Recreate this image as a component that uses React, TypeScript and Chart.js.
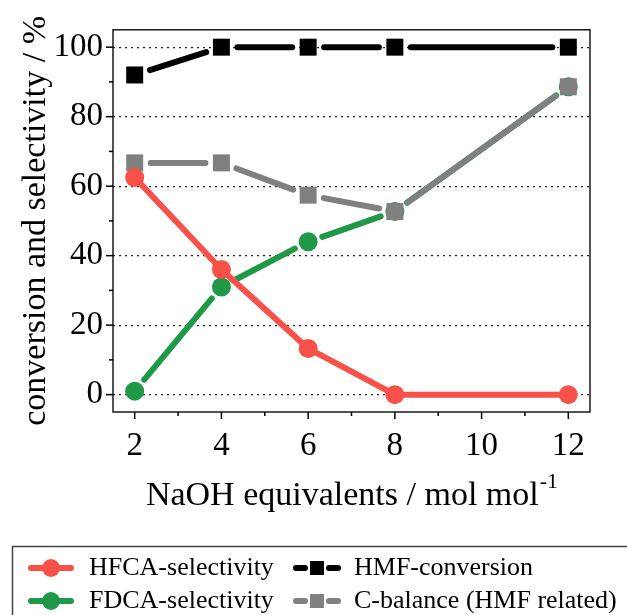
import React, { useEffect, useRef } from 'react';
import { Chart, registerables } from 'chart.js';

Chart.register(...registerables);

// ---- data ----
const naohEquivalents = [2, 4, 6, 8, 12];
const hfcaSelectivity = [62.5, 36, 13.3, 0, 0];
const fdcaSelectivity = [1, 31, 44, 52.7, 88.6];
const hmfConversion = [92, 100, 100, 100, 100];
const cBalance = [66.7, 66.7, 57.4, 52.7, 88.6];

const xTickValues = [2, 3, 4, 5, 6, 7, 8, 9, 10, 11, 12];
const xTickLabels = [2, 4, 6, 8, 10, 12];
const yTickValues = [0, 10, 20, 30, 40, 50, 60, 70, 80, 90, 100];
const yTickLabels = [0, 20, 40, 60, 80, 100];

const xTitle = 'NaOH equivalents / mol mol';
const xTitleSup = '-1';
const yTitle = 'conversion and selectivity / %';

const FONT = '"Liberation Serif", "Times New Roman", Times, serif';
const RED = '#F8514A';
const GREEN = '#1F9848';
const BLACK = '#000000';
const GRAY = '#808080';

const toPoints = (ys: number[]) => naohEquivalents.map((x, i) => ({ x, y: ys[i] }));

const decorPlugin = {
  id: 'decor',
  beforeDatasetDraw(chart: any, args: any) {
    const ds = chart.data.datasets[args.index];
    const pts = args.meta.data;
    const gap = ds.lineGap || 0;
    const ctx = chart.ctx;
    ctx.save();
    ctx.strokeStyle = ds.borderColor;
    ctx.lineWidth = 6;
    ctx.lineCap = 'round';
    for (let i = 0; i < pts.length - 1; i++) {
      const a = pts[i];
      const b = pts[i + 1];
      const dx = b.x - a.x;
      const dy = b.y - a.y;
      const len = Math.hypot(dx, dy);
      if (len <= 2 * gap + 1) continue;
      const ux = dx / len;
      const uy = dy / len;
      ctx.beginPath();
      ctx.moveTo(a.x + ux * gap, a.y + uy * gap);
      ctx.lineTo(b.x - ux * gap, b.y - uy * gap);
      ctx.stroke();
    }
    ctx.restore();
  },
  afterDraw(chart: any) {
    const ctx = chart.ctx;
    const area = chart.chartArea;
    const xs = chart.scales.x;
    const ys = chart.scales.y;
    ctx.save();
    // frame
    ctx.strokeStyle = '#1a1a1a';
    ctx.lineWidth = 1.5;
    ctx.strokeRect(area.left, area.top, area.right - area.left, area.bottom - area.top);
    // tick marks
    ctx.lineWidth = 1.5;
    ctx.strokeStyle = '#000';
    for (const v of xTickValues) {
      const px = xs.getPixelForValue(v);
      const len = xTickLabels.includes(v) ? 7 : 4;
      ctx.beginPath();
      ctx.moveTo(px, area.bottom);
      ctx.lineTo(px, area.bottom + len);
      ctx.stroke();
    }
    for (const v of yTickValues) {
      const py = ys.getPixelForValue(v);
      const len = yTickLabels.includes(v) ? 7 : 4;
      ctx.beginPath();
      ctx.moveTo(area.left, py);
      ctx.lineTo(area.left - len, py);
      ctx.stroke();
    }
    // x title with superscript
    ctx.fillStyle = '#000';
    ctx.textBaseline = 'alphabetic';
    ctx.textAlign = 'left';
    ctx.font = `34px ${FONT}`;
    const mainW = ctx.measureText(xTitle).width;
    ctx.font = `22px ${FONT}`;
    const supW = ctx.measureText(xTitleSup).width;
    const cx = (area.left + area.right) / 2;
    const startX = cx - (mainW + supW) / 2;
    ctx.font = `34px ${FONT}`;
    ctx.fillText(xTitle, startX, 505);
    ctx.font = `22px ${FONT}`;
    ctx.fillText(xTitleSup, startX + mainW + 1, 488);
    // y title
    ctx.save();
    ctx.translate(45, (area.top + area.bottom) / 2);
    ctx.rotate(-Math.PI / 2);
    ctx.textAlign = 'center';
    ctx.font = `34px ${FONT}`;
    ctx.fillText(yTitle, 0, 0);
    ctx.restore();
    // legend box
    ctx.strokeStyle = '#444';
    ctx.lineWidth = 1.5;
    ctx.strokeRect(12.5, 546.5, 700, 120);
    const ds = chart.data.datasets;
    const slots = [
      { i: 0, x0: 28, x1: 74, tx: 89, y: 568 },
      { i: 2, x0: 293, x1: 341, tx: 354, y: 568 },
      { i: 1, x0: 28, x1: 74, tx: 89, y: 601 },
      { i: 3, x0: 293, x1: 341, tx: 354, y: 601 },
    ];
    for (const s of slots) {
      const d = ds[s.i];
      const mid = (s.x0 + s.x1) / 2;
      ctx.strokeStyle = d.borderColor;
      ctx.fillStyle = d.backgroundColor;
      ctx.lineWidth = 6;
      ctx.lineCap = 'round';
      if (d.pointStyle === 'rect') {
        ctx.beginPath();
        ctx.moveTo(s.x0 + 3, s.y);
        ctx.lineTo(mid - 12, s.y);
        ctx.moveTo(mid + 12, s.y);
        ctx.lineTo(s.x1 - 3, s.y);
        ctx.stroke();
        ctx.fillRect(mid - 7, s.y - 7, 14, 14);
      } else {
        ctx.beginPath();
        ctx.moveTo(s.x0 + 3, s.y);
        ctx.lineTo(s.x1 - 3, s.y);
        ctx.stroke();
        ctx.beginPath();
        ctx.arc(mid, s.y, 9, 0, Math.PI * 2);
        ctx.fill();
      }
      ctx.fillStyle = '#000';
      ctx.font = `26px ${FONT}`;
      ctx.textAlign = 'left';
      ctx.textBaseline = 'middle';
      ctx.fillText(d.label, s.tx, s.y);
    }
    ctx.restore();
  },
};

export default function App() {
  const canvasRef = useRef<HTMLCanvasElement | null>(null);

  useEffect(() => {
    document.body.style.margin = '0';
    document.body.style.overflow = 'hidden';
    const canvas = canvasRef.current;
    if (!canvas) return;
    const chart = new Chart(canvas, {
      type: 'scatter',
      data: {
        datasets: [
          {
            label: 'HFCA-selectivity',
            data: toPoints(hfcaSelectivity),
            borderColor: RED,
            backgroundColor: RED,
            pointBackgroundColor: RED,
            pointBorderColor: RED,
            pointStyle: 'circle',
            pointRadius: 9.5,
            pointBorderWidth: 0,
            showLine: false,
            order: 0,
            clip: false,
            lineGap: 0,
          } as any,
          {
            label: 'FDCA-selectivity',
            data: toPoints(fdcaSelectivity),
            borderColor: GREEN,
            backgroundColor: GREEN,
            pointBackgroundColor: GREEN,
            pointBorderColor: GREEN,
            pointStyle: 'circle',
            pointRadius: 9.5,
            pointBorderWidth: 0,
            showLine: false,
            order: 3,
            clip: false,
            lineGap: 15,
          } as any,
          {
            label: 'HMF-conversion',
            data: toPoints(hmfConversion),
            borderColor: BLACK,
            backgroundColor: BLACK,
            pointBackgroundColor: BLACK,
            pointBorderColor: BLACK,
            pointStyle: 'rect',
            pointRadius: 12,
            pointBorderWidth: 0,
            showLine: false,
            order: 1,
            clip: false,
            lineGap: 16,
          } as any,
          {
            label: 'C-balance (HMF related)',
            data: toPoints(cBalance),
            borderColor: GRAY,
            backgroundColor: GRAY,
            pointBackgroundColor: GRAY,
            pointBorderColor: GRAY,
            pointStyle: 'rect',
            pointRadius: 12,
            pointBorderWidth: 0,
            showLine: false,
            order: 2,
            clip: false,
            lineGap: 16,
          } as any,
        ],
      },
      options: {
        responsive: false,
        animation: false,
        devicePixelRatio: 1,
        events: [],
        layout: { padding: { left: 0, top: 27, right: 37, bottom: 0 } },
        plugins: {
          legend: { display: false },
          tooltip: { enabled: false },
        },
        scales: {
          x: {
            type: 'linear',
            min: 1.5,
            max: 12.5,
            afterBuildTicks: (s: any) => {
              s.ticks = xTickValues.map((v) => ({ value: v }));
            },
            afterFit: (s: any) => {
              s.height = 615 - 412;
            },
            grid: { display: false },
            border: { display: false },
            ticks: {
              autoSkip: false,
              maxRotation: 0,
              padding: 7,
              color: '#000',
              font: { family: FONT, size: 33 },
              callback: (v: any) => (xTickLabels.includes(Number(v)) ? String(v) : ''),
            },
          },
          y: {
            type: 'linear',
            min: -5,
            max: 105,
            afterBuildTicks: (s: any) => {
              s.ticks = yTickValues.map((v) => ({ value: v }));
            },
            afterFit: (s: any) => {
              s.width = 113;
            },
            grid: {
              drawTicks: false,
              lineWidth: 1.2,
              color: (c: any) =>
                c.tick && yTickLabels.includes(c.tick.value) ? '#222' : 'rgba(0,0,0,0)',
            },
            border: { display: false, dash: [2, 4] },
            ticks: {
              autoSkip: false,
              padding: 10,
              color: '#000',
              font: { family: FONT, size: 33 },
              callback: (v: any) => (yTickLabels.includes(Number(v)) ? String(v) : ''),
            },
          },
        },
      },
      plugins: [decorPlugin],
    } as any);
    return () => chart.destroy();
  }, []);

  return (
    <div style={{ width: 627, height: 615, background: '#fff' }}>
      <canvas ref={canvasRef} width={627} height={615} style={{ display: 'block' }} />
    </div>
  );
}
